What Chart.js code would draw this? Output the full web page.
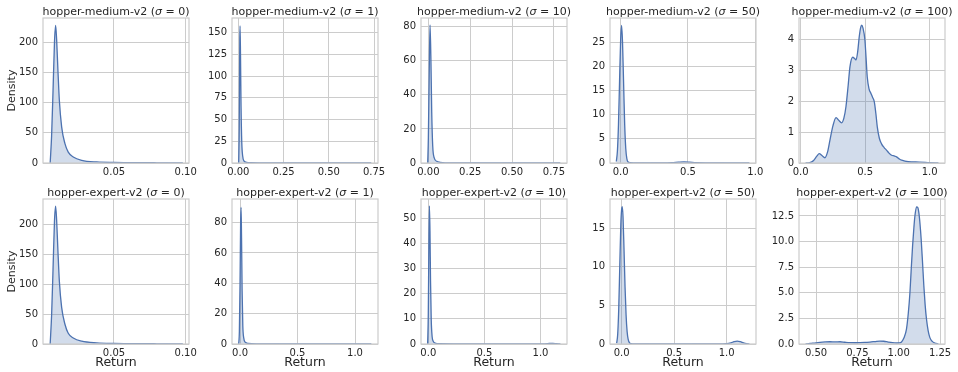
<!DOCTYPE html>
<html>
<head>
<meta charset="utf-8">
<script src="https://cdn.jsdelivr.net/npm/chart.js@4.4.0/dist/chart.umd.min.js"></script>
<style>
  body { margin: 0; background: #fff; width: 958px; height: 372px; position: relative; overflow: hidden; }
  canvas { position: absolute; }
</style>
</head>
<body>
<script>
// --- data -------------------------------------------------------------
const envs = ['hopper-medium-v2', 'hopper-expert-v2'];
const sigmas = ['0', '1', '10', '50', '100'];

// hopper-medium-v2
const retMed0 = [0.0055, 0.0065, 0.0075, 0.0085, 0.0093, 0.0100, 0.0108, 0.0119, 0.0135, 0.0158, 0.0181, 0.0216, 0.0275, 0.038, 0.050, 0.060, 0.070, 0.080, 0.090, 0.098];
const denMed0 = [0, 45, 120, 200, 228, 205, 160, 104, 60, 32, 18, 10, 4.5, 1.7, 0.9, 0.7, 0.5, 0.35, 0.2, 0.05];
const xLimMed0 = [0.0005, 0.1023];
const yTopMed0 = 240.4;
const xTicksMed0 = ['0.05', '0.10'];
const yTicksMed0 = ['0', '50', '100', '150', '200'];

const retMed1 = [0.002, 0.005, 0.008, 0.0095, 0.012, 0.015, 0.019, 0.024, 0.031, 0.045, 0.07, 0.15, 0.3, 0.5, 0.65, 0.735];
const denMed1 = [0, 40, 140, 158, 125, 65, 24, 8, 2.5, 0.8, 0.3, 0.1, 0.05, 0.03, 0.02, 0];
const xLimMed1 = [-0.035, 0.772];
const yTopMed1 = 167;
const xTicksMed1 = ['0.00', '0.25', '0.50', '0.75'];
const yTicksMed1 = ['0', '25', '50', '75', '100', '125', '150'];

const retMed10 = [-0.004, 0.0, 0.005, 0.01, 0.015, 0.02, 0.026, 0.035, 0.05, 0.07, 0.1, 0.3, 0.5, 0.7, 0.788];
const denMed10 = [0, 15, 52, 81, 62, 30, 10, 3, 1, 0.4, 0.1, 0.05, 0.03, 0.02, 0];
const xLimMed10 = [-0.044, 0.828];
const yTopMed10 = 85.1;
const xTicksMed10 = ['0.00', '0.25', '0.50', '0.75'];
const yTicksMed10 = ['0', '20', '40', '60', '80'];

const retMed50 = [-0.032, -0.024, -0.016, -0.008, 0.0, 0.007, 0.014, 0.022, 0.030, 0.038, 0.046, 0.055, 0.07, 0.1, 0.2, 0.3, 0.38, 0.43, 0.47, 0.51, 0.56, 0.65, 0.8, 0.956];
const denMed50 = [0.3, 2.5, 8, 17, 25.5, 28.5, 25, 16.5, 8, 3, 0.9, 0.2, 0.05, 0.03, 0.02, 0.03, 0.08, 0.18, 0.24, 0.18, 0.07, 0.03, 0.01, 0];
const xLimMed50 = [-0.079, 1.005];
const yTopMed50 = 30.04;
const xTicksMed50 = ['0.0', '0.5', '1.0'];
const yTicksMed50 = ['0', '5', '10', '15', '20', '25'];

const retMed100 = [0.038, 0.07, 0.10, 0.125, 0.144, 0.165, 0.188, 0.208, 0.227, 0.25, 0.274, 0.295, 0.318, 0.335, 0.351, 0.368, 0.382, 0.403, 0.418, 0.429, 0.442, 0.454, 0.465, 0.473, 0.482, 0.498, 0.507, 0.516, 0.53, 0.545, 0.558, 0.571, 0.583, 0.594, 0.61, 0.628, 0.647, 0.667, 0.685, 0.705, 0.725, 0.744, 0.765, 0.783, 0.834, 0.92, 1.0, 1.068];
const denMed100 = [0, 0.01, 0.08, 0.22, 0.30, 0.24, 0.17, 0.35, 0.74, 1.2, 1.47, 1.38, 1.30, 1.45, 1.82, 2.5, 3.11, 3.42, 3.38, 3.33, 3.6, 4.08, 4.38, 4.46, 4.38, 3.98, 3.4, 2.79, 2.4, 2.25, 2.12, 1.98, 1.6, 1.17, 0.8, 0.61, 0.5, 0.41, 0.32, 0.25, 0.23, 0.2, 0.13, 0.09, 0.04, 0.03, 0.01, 0];
const xLimMed100 = [-0.013, 1.119];
const yTopMed100 = 4.69;
const xTicksMed100 = ['0.0', '0.5', '1.0'];
const yTicksMed100 = ['0', '1', '2', '3', '4'];

// hopper-expert-v2
const retExp0 = [0.0055, 0.0065, 0.0075, 0.0085, 0.0093, 0.0100, 0.0108, 0.0119, 0.0135, 0.0158, 0.0181, 0.0216, 0.0275, 0.038, 0.050, 0.060, 0.070, 0.080, 0.090, 0.098];
const denExp0 = [0, 48, 125, 205, 230, 207, 162, 105, 61, 33, 18, 10, 4.6, 1.8, 0.9, 0.7, 0.5, 0.35, 0.2, 0.05];
const xLimExp0 = [0.0005, 0.1023];
const yTopExp0 = 242;
const xTicksExp0 = ['0.05', '0.10'];
const yTicksExp0 = ['0', '50', '100', '150', '200'];

const retExp1 = [-0.012, -0.006, 0.0, 0.005, 0.009, 0.013, 0.018, 0.024, 0.032, 0.045, 0.07, 0.15, 0.4, 0.7, 1.0, 1.1, 1.142];
const denExp1 = [0, 8, 40, 80, 90, 70, 35, 12, 4, 1.2, 0.4, 0.1, 0.03, 0.02, 0.03, 0.05, 0];
const xLimExp1 = [-0.07, 1.2];
const yTopExp1 = 95.6;
const xTicksExp1 = ['0.0', '0.5', '1.0'];
const yTicksExp1 = ['0', '20', '40', '60', '80'];

const retExp10 = [-0.006, 0.0, 0.005, 0.01, 0.015, 0.02, 0.026, 0.034, 0.045, 0.06, 0.1, 0.3, 0.6, 0.9, 1.04, 1.08, 1.11, 1.14, 1.177];
const denExp10 = [0, 12, 38, 55, 45, 25, 10, 3, 1, 0.4, 0.1, 0.03, 0.02, 0.02, 0.08, 0.2, 0.25, 0.15, 0];
const xLimExp10 = [-0.065, 1.236];
const yTopExp10 = 57.7;
const xTicksExp10 = ['0.0', '0.5', '1.0'];
const yTicksExp10 = ['0', '10', '20', '30', '40', '50'];

const retExp50 = [-0.048, -0.038, -0.028, -0.018, -0.008, 0.0, 0.006, 0.013, 0.022, 0.032, 0.042, 0.052, 0.062, 0.075, 0.09, 0.12, 0.3, 0.6, 0.9, 1.0, 1.04, 1.07, 1.1, 1.13, 1.16, 1.19, 1.216];
const denExp50 = [0.1, 1.2, 4.5, 10, 15.5, 17.5, 17.8, 16.5, 12.5, 7.5, 3.8, 1.6, 0.6, 0.15, 0.05, 0.02, 0.01, 0.01, 0.02, 0.05, 0.15, 0.3, 0.38, 0.3, 0.15, 0.05, 0.01];
const xLimExp50 = [-0.111, 1.279];
const yTopExp50 = 18.8;
const xTicksExp50 = ['0.0', '0.5', '1.0'];
const yTicksExp50 = ['0', '5', '10', '15'];

const retExp100 = [0.437, 0.464, 0.50, 0.524, 0.555, 0.585, 0.615, 0.645, 0.675, 0.705, 0.735, 0.766, 0.796, 0.826, 0.856, 0.886, 0.91, 0.937, 0.962, 0.987, 1.005, 1.017, 1.032, 1.047, 1.058, 1.068, 1.076, 1.084, 1.092, 1.098, 1.108, 1.115, 1.122, 1.129, 1.136, 1.144, 1.152, 1.16, 1.168, 1.178, 1.188, 1.203, 1.218, 1.24];
const denExp100 = [0.0, 0.05, 0.11, 0.16, 0.2, 0.22, 0.2, 0.22, 0.17, 0.13, 0.12, 0.13, 0.15, 0.19, 0.24, 0.29, 0.27, 0.19, 0.13, 0.1, 0.11, 0.2, 0.6, 1.46, 3.0, 5.03, 7.4, 9.58, 11.4, 12.5, 13.4, 13.35, 12.8, 11.7, 10.2, 8.0, 5.68, 3.8, 2.44, 1.3, 0.65, 0.25, 0.1, 0.0];
const xLimExp100 = [0.397, 1.28];
const yTopExp100 = 14.16;
const xTicksExp100 = ['0.50', '0.75', '1.00', '1.25'];
const yTicksExp100 = ['0.0', '2.5', '5.0', '7.5', '10.0', '12.5'];

// --- look -------------------------------------------------------------
const TXT = '#262626';
const GRID = '#cccccc';
const LINE = '#4c72b0';
const FILL = 'rgba(76,114,176,0.25)';
const FAMILY = "'DejaVu Sans', sans-serif";

Chart.defaults.font.family = FAMILY;
Chart.defaults.color = TXT;

const COL_LEFT = [43, 232, 421, 610, 799];
const ROW_TOP = [18, 199];
const PW = 146, PH = 145, YAX = 43, PAD_T = 18, PAD_R = 12;

const panels = [
  { x: retMed0, y: denMed0, xLim: xLimMed0, yTop: yTopMed0, xt: xTicksMed0, yt: yTicksMed0 },
  { x: retMed1, y: denMed1, xLim: xLimMed1, yTop: yTopMed1, xt: xTicksMed1, yt: yTicksMed1 },
  { x: retMed10, y: denMed10, xLim: xLimMed10, yTop: yTopMed10, xt: xTicksMed10, yt: yTicksMed10 },
  { x: retMed50, y: denMed50, xLim: xLimMed50, yTop: yTopMed50, xt: xTicksMed50, yt: yTicksMed50 },
  { x: retMed100, y: denMed100, xLim: xLimMed100, yTop: yTopMed100, xt: xTicksMed100, yt: yTicksMed100 },
  { x: retExp0, y: denExp0, xLim: xLimExp0, yTop: yTopExp0, xt: xTicksExp0, yt: yTicksExp0 },
  { x: retExp1, y: denExp1, xLim: xLimExp1, yTop: yTopExp1, xt: xTicksExp1, yt: yTicksExp1 },
  { x: retExp10, y: denExp10, xLim: xLimExp10, yTop: yTopExp10, xt: xTicksExp10, yt: yTicksExp10 },
  { x: retExp50, y: denExp50, xLim: xLimExp50, yTop: yTopExp50, xt: xTicksExp50, yt: yTicksExp50 },
  { x: retExp100, y: denExp100, xLim: xLimExp100, yTop: yTopExp100, xt: xTicksExp100, yt: yTicksExp100 },
];

// title with an italic sigma + the axes frame
const panelDeco = {
  id: 'panelDeco',
  afterDraw(chart, args, opts) {
    const { ctx, chartArea: a } = chart;
    ctx.save();
    ctx.strokeStyle = GRID;
    ctx.lineWidth = 1.2;
    ctx.strokeRect(a.left, a.top, a.right - a.left, a.bottom - a.top);

    ctx.fillStyle = TXT;
    ctx.textBaseline = 'alphabetic';
    ctx.textAlign = 'left';
    const fontOf = p => (p.it ? 'italic ' : '') + '11px ' + FAMILY;
    const widths = opts.parts.map(p => { ctx.font = fontOf(p); return ctx.measureText(p.t).width; });
    let x = (a.left + a.right) / 2 - widths.reduce((s, w) => s + w, 0) / 2;
    opts.parts.forEach((p, k) => {
      ctx.font = fontOf(p);
      ctx.fillText(p.t, x, a.top - 3.5);
      x += widths[k];
    });
    ctx.restore();
  }
};

panels.forEach((p, i) => {
  const r = Math.floor(i / 5), c = i % 5;
  const w = YAX + PW + PAD_R;
  const h = r === 0 ? 186 : 191;
  const cv = document.createElement('canvas');
  cv.width = w;
  cv.height = h;
  cv.style.left = (COL_LEFT[c] - YAX) + 'px';
  cv.style.top = (ROW_TOP[r] - PAD_T) + 'px';
  document.body.appendChild(cv);
  const xAxisH = h - PAD_T - PH;

  new Chart(cv, {
    type: 'line',
    data: {
      datasets: [{
        data: p.x.map((v, k) => ({ x: v, y: p.y[k] })),
        borderColor: LINE,
        borderWidth: 1.3,
        backgroundColor: FILL,
        fill: 'origin',
        pointRadius: 0,
        cubicInterpolationMode: 'monotone'
      }]
    },
    options: {
      responsive: false,
      animation: false,
      events: [],
      layout: { padding: { left: 0, top: PAD_T, right: PAD_R, bottom: 0 } },
      plugins: {
        legend: { display: false },
        tooltip: { enabled: false },
        panelDeco: {
          parts: [
            { t: envs[r] + ' (', it: false },
            { t: 'σ', it: true },
            { t: ' = ' + sigmas[c] + ')', it: false }
          ]
        }
      },
      scales: {
        x: {
          type: 'linear',
          min: p.xLim[0],
          max: p.xLim[1],
          bounds: 'data',
          grid: { color: GRID, lineWidth: 1, drawTicks: false },
          border: { display: false },
          ticks: {
            autoSkip: false, maxRotation: 0, padding: 3,
            color: TXT, font: { size: 10 },
            callback: (v, k) => p.xt[k]
          },
          afterBuildTicks: s => { s.ticks = p.xt.map(t => ({ value: parseFloat(t) })); },
          afterFit: s => { s.height = xAxisH; s.paddingLeft = 0; s.paddingRight = 0; },
          title: {
            display: r === 1, text: 'Return', color: TXT,
            font: { size: 12.5 }, padding: { top: 0, bottom: 2 }
          }
        },
        y: {
          type: 'linear',
          min: 0,
          max: p.yTop,
          bounds: 'data',
          grid: { color: GRID, lineWidth: 1, drawTicks: false },
          border: { display: false },
          ticks: {
            autoSkip: false, padding: 5,
            color: TXT, font: { size: 10 },
            callback: (v, k) => p.yt[k]
          },
          afterBuildTicks: s => { s.ticks = p.yt.map(t => ({ value: parseFloat(t) })); },
          afterFit: s => { s.width = YAX; s.paddingTop = 0; s.paddingBottom = 0; },
          title: {
            display: c === 0, text: 'Density', color: TXT,
            font: { size: 11 }, padding: { top: 5.5, bottom: 0 }
          }
        }
      }
    },
    plugins: [panelDeco]
  });
});
</script>
</body>
</html>
